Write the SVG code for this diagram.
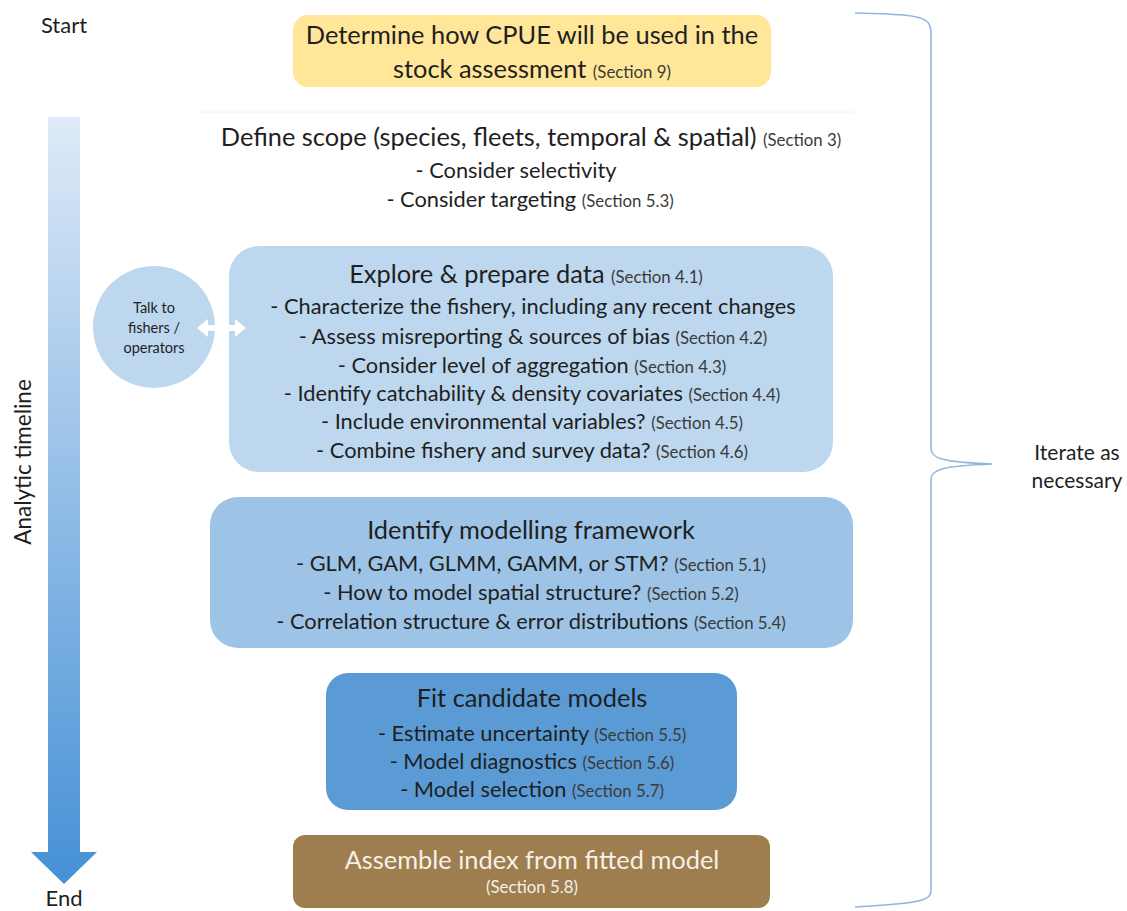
<svg xmlns="http://www.w3.org/2000/svg" width="1127" height="911" viewBox="0 0 1127 911">
<defs>
<linearGradient id="tl" x1="0" y1="0" x2="0" y2="1">
<stop offset="0" stop-color="#DEEAF7"/>
<stop offset="1" stop-color="#4590D6"/>
</linearGradient>
<style>
text{font-family:"Lato","Open Sans","DejaVu Sans",sans-serif;font-weight:400;fill:#1f1f1f;text-anchor:middle}
.t{font-size:25.4px}
.b{font-size:21.8px}
.s{font-size:16.8px;fill:#3a3a3a}
.lab{font-size:22px}
</style>
</defs>
<rect width="1127" height="911" fill="#ffffff"/>

<g id="timeline">
<path d="M48,117 H80 V852 H97 L64,884 L31,852 H48 Z" fill="url(#tl)"/>
<text class="lab" x="64" y="33">Start</text>
<text class="lab" x="64" y="906">End</text>
<text class="lab" style="font-size:22.5px" transform="translate(31,462) rotate(-90)" x="0" y="0">Analytic timeline</text>
</g>

<g id="node-cpue">
<rect x="293" y="15" width="478" height="72" rx="15" fill="#FFE699"/>
<text class="t" x="532" y="44">Determine how CPUE will be used in the</text>
<text class="t" x="532" y="78">stock assessment <tspan class="s">(Section 9)</tspan></text>
</g>

<g id="node-scope">
<line x1="200" y1="112" x2="855" y2="112" stroke="#f2f2f2" stroke-width="1"/>
<text class="t" x="531" y="146">Define scope (species, fleets, temporal &amp; spatial) <tspan class="s">(Section 3)</tspan></text>
<text class="b" x="516" y="178">- Consider selectivity</text>
<text class="b" x="530" y="207">- Consider targeting <tspan class="s">(Section 5.3)</tspan></text>
</g>

<g id="node-talk">
<circle cx="154" cy="327" r="61" fill="#BDD7EE"/>
<text font-size="14.5" x="154" y="313">Talk to</text>
<text font-size="14.5" x="154" y="333">fishers /</text>
<text font-size="14.5" x="154" y="353">operators</text>
</g>

<g id="node-explore">
<rect x="229" y="246" width="604" height="226" rx="30" fill="#BDD7EE"/>
<text class="t" x="526" y="283">Explore &amp; prepare data <tspan class="s">(Section 4.1)</tspan></text>
<text class="b" x="533" y="314">- Characterize the fishery, including any recent changes</text>
<text class="b" x="533" y="344">- Assess misreporting &amp; sources of bias <tspan class="s">(Section 4.2)</tspan></text>
<text class="b" x="532" y="373">- Consider level of aggregation <tspan class="s">(Section 4.3)</tspan></text>
<text class="b" x="532" y="401">- Identify catchability &amp; density covariates <tspan class="s">(Section 4.4)</tspan></text>
<text class="b" x="532" y="429">- Include environmental variables? <tspan class="s">(Section 4.5)</tspan></text>
<text class="b" x="532" y="458">- Combine fishery and survey data? <tspan class="s">(Section 4.6)</tspan></text>
</g>

<g id="node-framework">
<rect x="210" y="497" width="643" height="151" rx="28" fill="#9DC3E6"/>
<text class="t" x="531" y="539">Identify modelling framework</text>
<text class="b" x="531" y="571">- GLM, GAM, GLMM, GAMM, or STM? <tspan class="s">(Section 5.1)</tspan></text>
<text class="b" x="531" y="600">- How to model spatial structure? <tspan class="s">(Section 5.2)</tspan></text>
<text class="b" x="531" y="629">- Correlation structure &amp; error distributions <tspan class="s">(Section 5.4)</tspan></text>
</g>

<g id="node-fit">
<rect x="326" y="673" width="411" height="137" rx="22" fill="#5B9BD5"/>
<text class="t" x="532" y="707">Fit candidate models</text>
<text class="b" x="532" y="741">- Estimate uncertainty <tspan class="s">(Section 5.5)</tspan></text>
<text class="b" x="532" y="769">- Model diagnostics <tspan class="s">(Section 5.6)</tspan></text>
<text class="b" x="532" y="797">- Model selection <tspan class="s">(Section 5.7)</tspan></text>
</g>

<g id="node-assemble">
<rect x="293" y="835" width="477" height="73" rx="12" fill="#9E7E4E"/>
<text class="t" x="532" y="869" style="fill:#f5f0e8">Assemble index from fitted model</text>
<text class="s" x="532" y="893" style="fill:#f5f0e8">(Section 5.8)</text>
</g>

<g id="label-iterate">
<text class="lab" style="font-size:21px" x="1077" y="460">Iterate as</text>
<text class="lab" style="font-size:21px" x="1077" y="488">necessary</text>
</g>

<g id="connectors">
<path d="M197,328 L208,319 V325 H235 V319 L246,328 L235,337 V331 H208 V337 Z" fill="#ffffff"/>
<path d="M855,13 C900,14 925,15 929,24 C931,28 931,30 931,40 V448 C931,458 940,462 992,464 C940,466 931,470 931,480 V890 C931,900 925,903 855,907" fill="none" stroke="#8FB4E3" stroke-width="1.6"/>
</g>
</svg>
